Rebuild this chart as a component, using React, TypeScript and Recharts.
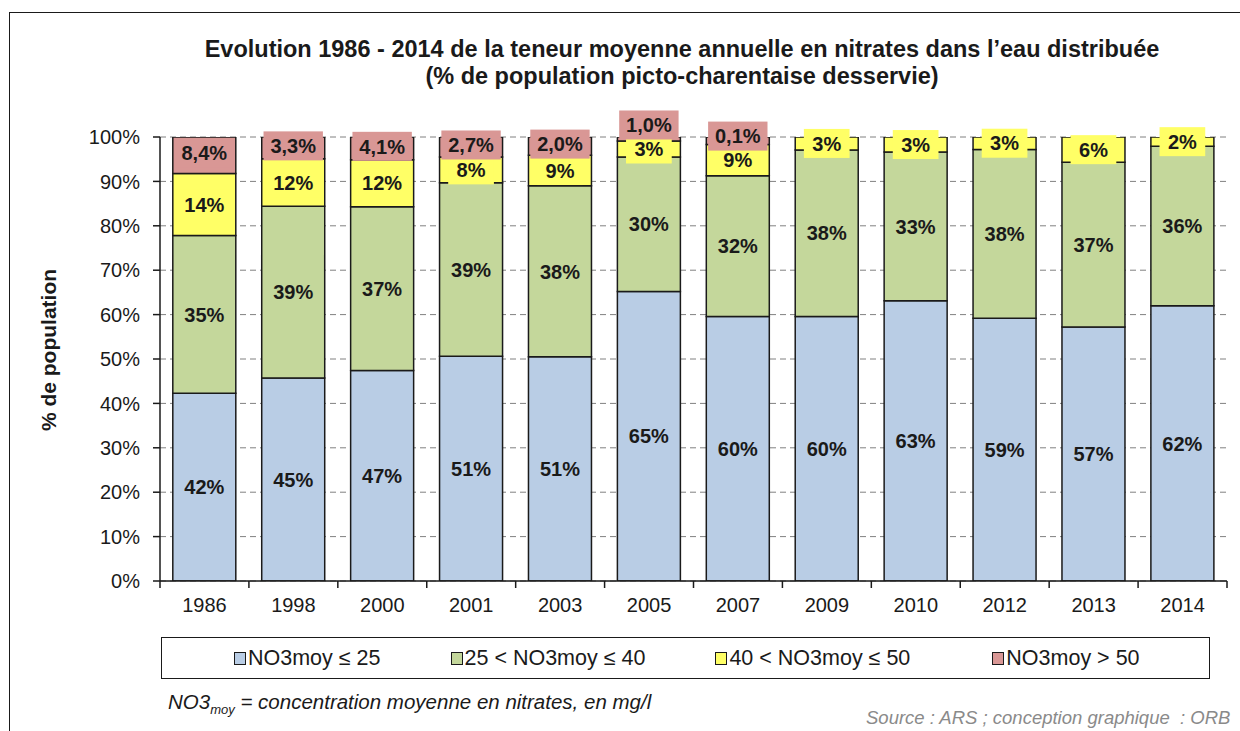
import React from "react";
import {
  BarChart,
  Bar,
  XAxis,
  YAxis,
  CartesianGrid,
  LabelList,
} from "recharts";

const years = ["1986", "1998", "2000", "2001", "2003", "2005", "2007", "2009", "2010", "2012", "2013", "2014"];

// segment heights as drawn (% of population)
const le25 = [42.3, 45.7, 47.4, 50.6, 50.5, 65.2, 59.6, 59.6, 63.1, 59.2, 57.2, 62.0];
const from25to40 = [35.5, 38.7, 36.9, 39.1, 38.5, 30.3, 31.7, 37.5, 33.5, 38.0, 37.1, 35.9];
const from40to50 = [14.0, 10.7, 10.6, 5.8, 6.9, 3.6, 7.0, 2.9, 3.4, 2.8, 5.7, 2.1];
const gt50 = [8.2, 4.9, 5.1, 4.5, 4.1, 0.9, 1.7, 0, 0, 0, 0, 0];

// printed labels
const le25Labels = ["42%", "45%", "47%", "51%", "51%", "65%", "60%", "60%", "63%", "59%", "57%", "62%"];
const from25to40Labels = ["35%", "39%", "37%", "39%", "38%", "30%", "32%", "38%", "33%", "38%", "37%", "36%"];
const from40to50Labels = ["14%", "12%", "12%", "8%", "9%", "3%", "9%", "3%", "3%", "3%", "6%", "2%"];
const gt50Labels = ["8,4%", "3,3%", "4,1%", "2,7%", "2,0%", "1,0%", "0,1%", "", "", "", "", ""];

const yTicks = [0, 10, 20, 30, 40, 50, 60, 70, 80, 90, 100];

const series = [
  { key: "a", name: "NO3moy ≤ 25", color: "#B9CDE5" },
  { key: "b", name: "25 < NO3moy ≤ 40", color: "#C4D79B" },
  { key: "c", name: "40 < NO3moy ≤ 50", color: "#FFFF66" },
  { key: "d", name: "NO3moy > 50", color: "#D99795" },
];

const data = years.map((year, i) => ({
  year,
  a: le25[i],
  b: from25to40[i],
  c: from40to50[i],
  d: gt50[i],
  la: le25Labels[i],
  lb: from25to40Labels[i],
  lc: from40to50Labels[i],
  ld: gt50Labels[i],
}));

const PLOT_LEFT = 160;
const PLOT_RIGHT = 1227;
const PLOT_TOP = 137;
const PLOT_BOTTOM = 581;
const CAT_W = (PLOT_RIGHT - PLOT_LEFT) / years.length;
const PX_PER_PCT = (PLOT_BOTTOM - PLOT_TOP) / 100;

const SANS = "'Liberation Sans', Arial, sans-serif";
const NARROW = "'Liberation Sans Narrow', 'Arial Narrow', 'Liberation Sans', Arial, sans-serif";
const INK = "#1a1a1a";

function textWidth(s: string) {
  let w = 0;
  for (const ch of s) {
    if (ch === "%") w += 0.729;
    else if (ch === ",") w += 0.228;
    else w += 0.456;
  }
  return w * 20;
}

function makeLabel(fill: string | null, isTop: boolean) {
  return (props: any) => {
    const { x, y, width, height, value, index } = props;
    if (!value) return null;
    let cy = y + height / 2;
    if (isTop) {
      const yellowCenter = y + height + (from40to50[index] * PX_PER_PCT) / 2;
      cy = Math.min(cy - 2, yellowCenter - 24);
    }
    const cx = x + width / 2;
    const bw = textWidth(String(value)) + 22;
    const bh = 29;
    return (
      <g>
        {fill && <rect x={cx - bw / 2} y={cy - bh / 2} width={bw} height={bh} fill={fill} />}
        <text
          x={cx}
          y={cy}
          dy="0.36em"
          textAnchor="middle"
          fontFamily={NARROW}
          fontWeight="bold"
          fontSize={20}
          fill={INK}
        >
          {value}
        </text>
      </g>
    );
  };
}

function YearTick(props: any) {
  const { x, y, payload, index } = props;
  const half = CAT_W / 2;
  return (
    <g>
      <line x1={x - half} x2={x - half} y1={PLOT_BOTTOM} y2={PLOT_BOTTOM + 7} stroke={INK} strokeWidth={1.5} />
      {index === years.length - 1 && (
        <line x1={x + half} x2={x + half} y1={PLOT_BOTTOM} y2={PLOT_BOTTOM + 7} stroke={INK} strokeWidth={1.5} />
      )}
      <text x={x} y={y} dy="0.71em" textAnchor="middle" fontFamily={SANS} fontSize={20} fill={INK}>
        {payload.value}
      </text>
    </g>
  );
}

export default function App() {
  return (
    <div
      style={{
        position: "absolute",
        left: 0,
        top: 0,
        width: 1240,
        height: 731,
        overflow: "hidden",
        background: "#fff",
        fontFamily: SANS,
        color: INK,
      }}
    >
      <div
        style={{
          position: "absolute",
          left: 9,
          top: 12,
          width: 1300,
          height: 800,
          borderLeft: `1.5px solid ${INK}`,
          borderTop: `1.5px solid ${INK}`,
        }}
      />
      <div
        style={{
          position: "absolute",
          left: 132,
          width: 1100,
          top: 36,
          textAlign: "center",
          fontWeight: "bold",
          fontSize: 23.5,
          lineHeight: "27px",
          whiteSpace: "nowrap",
        }}
      >
        Evolution 1986 - 2014 de la teneur moyenne annuelle en nitrates dans l’eau distribuée
        <br />
        (% de population picto-charentaise desservie)
      </div>
      <div
        style={{
          position: "absolute",
          left: 49,
          top: 350,
          transform: "translate(-50%, -50%) rotate(-90deg)",
          whiteSpace: "nowrap",
          fontWeight: "bold",
          fontSize: 21,
        }}
      >
        % de population
      </div>

      <div style={{ position: "absolute", left: 0, top: 0 }}>
        <BarChart
          width={1240}
          height={731}
          data={data}
          margin={{ top: PLOT_TOP, right: 1240 - PLOT_RIGHT, bottom: 110, left: 0 }}
          barCategoryGap="14.4%"
        >
          <CartesianGrid vertical={false} stroke="#808080" strokeDasharray="6 4" />
          <XAxis
            dataKey="year"
            height={40}
            tickLine={false}
            tickSize={7}
            tickMargin={10}
            axisLine={{ stroke: INK, strokeWidth: 1.5 }}
            tick={<YearTick />}
            interval={0}
          />
          <YAxis
            width={PLOT_LEFT}
            domain={[0, 100]}
            ticks={yTicks}
            tickFormatter={(v: number) => `${v}%`}
            tickSize={7}
            tickMargin={13}
            tickLine={{ stroke: INK, strokeWidth: 1.5 }}
            axisLine={{ stroke: INK, strokeWidth: 1.5 }}
            tick={{ fontFamily: SANS, fontSize: 20, fill: INK }}
            allowDataOverflow
          />
          {series.map((s, si) => (
            <Bar
              key={s.key}
              dataKey={s.key}
              name={s.name}
              stackId="n"
              fill={s.color}
              stroke={INK}
              strokeWidth={1.5}
              isAnimationActive={false}
            >
              <LabelList
                dataKey={`l${s.key}`}
                content={makeLabel(si >= 2 ? s.color : null, si === 3)}
              />
            </Bar>
          ))}
        </BarChart>
      </div>

      <div
        style={{
          position: "absolute",
          left: 161,
          top: 637,
          width: 1049,
          height: 42,
          boxSizing: "border-box",
          border: `1.5px solid ${INK}`,
          display: "flex",
          alignItems: "center",
          justifyContent: "flex-start",
          gap: 70,
          fontSize: 21.5,
          paddingLeft: 72,
        }}
      >
        {series.map((s, i) => (
          <div
            key={s.key}
            style={{ display: "flex", alignItems: "center", marginLeft: i === 3 ? 12 : 0 }}
          >
            <span
              style={{
                display: "inline-block",
                width: 10,
                height: 11,
                background: s.color,
                border: `1px solid ${INK}`,
                marginRight: 2,
              }}
            />
            <span>{s.name}</span>
          </div>
        ))}
      </div>

      <div
        style={{
          position: "absolute",
          left: 168,
          top: 690,
          fontStyle: "italic",
          fontSize: 20.5,
          whiteSpace: "nowrap",
        }}
      >
        NO3<sub style={{ fontSize: 13 }}>moy</sub> = concentration moyenne en nitrates, en mg/l
      </div>
      <div
        style={{
          position: "absolute",
          left: 866,
          top: 707,
          fontStyle: "italic",
          fontSize: 18.5,
          color: "#8a8a8a",
          whiteSpace: "nowrap",
        }}
      >
        Source : ARS ; conception graphique&nbsp; : ORB
      </div>
    </div>
  );
}
